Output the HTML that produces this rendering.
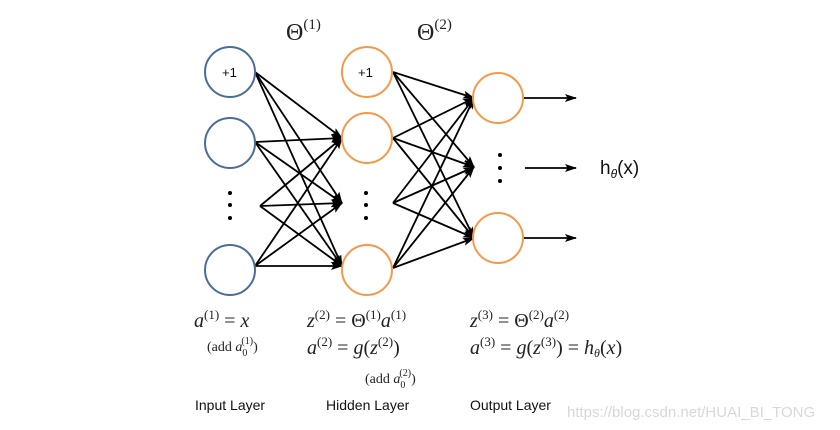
<!DOCTYPE html>
<html><head><meta charset="utf-8"><style>
html,body{margin:0;padding:0;background:#fff;}
svg{display:block}
.m{font-family:"Liberation Serif",serif;font-style:italic;fill:#222}
.r{font-family:"Liberation Serif",serif;font-style:normal;fill:#222}
.s{font-family:"Liberation Sans",sans-serif;fill:#111}
</style></head><body>
<svg width="840" height="430" viewBox="0 0 840 430" xmlns="http://www.w3.org/2000/svg">
<defs><marker id="a" markerWidth="12" markerHeight="10" refX="11" refY="5" orient="auto" markerUnits="userSpaceOnUse"><path d="M0,1 L12,5 L0,9 L2.5,5 z" fill="#000"/></marker></defs>
<g stroke="#000" stroke-width="1.8" marker-end="url(#a)">
<line x1="255" y1="72" x2="342" y2="138"/><line x1="255" y1="72" x2="342" y2="203"/><line x1="255" y1="72" x2="342" y2="266"/>
<line x1="255" y1="142" x2="342" y2="138"/><line x1="255" y1="142" x2="342" y2="203"/><line x1="255" y1="142" x2="342" y2="266"/>
<line x1="260" y1="206" x2="342" y2="138"/><line x1="260" y1="206" x2="342" y2="203"/><line x1="260" y1="206" x2="342" y2="266"/>
<line x1="255" y1="266" x2="342" y2="138"/><line x1="255" y1="266" x2="342" y2="203"/><line x1="255" y1="266" x2="342" y2="266"/>
<line x1="393" y1="72" x2="474" y2="98"/><line x1="393" y1="72" x2="474" y2="167"/><line x1="393" y1="72" x2="474" y2="238"/>
<line x1="393" y1="138" x2="474" y2="98"/><line x1="393" y1="138" x2="474" y2="167"/><line x1="393" y1="138" x2="474" y2="238"/>
<line x1="393" y1="203" x2="474" y2="98"/><line x1="393" y1="203" x2="474" y2="167"/><line x1="393" y1="203" x2="474" y2="238"/>
<line x1="393" y1="268" x2="474" y2="98"/><line x1="393" y1="268" x2="474" y2="167"/><line x1="393" y1="268" x2="474" y2="238"/>
<line x1="524" y1="98" x2="576" y2="98"/><line x1="525" y1="168" x2="576" y2="168"/><line x1="524" y1="238" x2="576" y2="238"/>
</g>
<g fill="#fff" stroke-width="2">
<circle cx="230" cy="72" r="25" stroke="#4a6c9b"/><circle cx="230" cy="143" r="25" stroke="#4a6c9b"/><circle cx="230" cy="270" r="25" stroke="#4a6c9b"/>
<circle cx="367" cy="72" r="25" stroke="#f39a4a"/><circle cx="367" cy="138" r="25" stroke="#f39a4a"/><circle cx="367" cy="270" r="25" stroke="#f39a4a"/>
<circle cx="498" cy="98" r="25" stroke="#f39a4a"/><circle cx="498" cy="238" r="25" stroke="#f39a4a"/>
</g>
<g fill="#000">
<circle cx="230" cy="193" r="2"/><circle cx="230" cy="205" r="2"/><circle cx="230" cy="218" r="2"/>
<circle cx="366" cy="193" r="2"/><circle cx="366" cy="205" r="2"/><circle cx="366" cy="218" r="2"/>
<circle cx="500" cy="155" r="2"/><circle cx="500" cy="168" r="2"/><circle cx="500" cy="181" r="2"/>
</g>
<text x="222" y="77" class="s" font-size="13">+1</text>
<text x="358" y="77" class="s" font-size="13">+1</text>
<text x="600" y="174" class="s" font-size="19">h<tspan font-size="12" dy="4" font-style="italic">θ</tspan><tspan dy="-4">(x)</tspan></text>
<text x="286" y="40" class="r" font-size="24">Θ<tspan font-size="15" dy="-11">(1)</tspan></text>
<text x="417" y="40" class="r" font-size="24">Θ<tspan font-size="15" dy="-11">(2)</tspan></text>
<g font-size="20">
<text x="194" y="327" class="m">a<tspan class="r" font-size="13" dy="-8">(1)</tspan><tspan class="r" dy="8"> = </tspan>x</text>
<text x="207" y="351" class="r" font-size="14">(add <tspan class="m">a</tspan><tspan font-size="10" dy="5">0</tspan><tspan font-size="10" dx="-6" dy="-12">(1)</tspan><tspan dy="7">)</tspan></text>
<text x="307" y="327" class="m">z<tspan class="r" font-size="13" dy="-8">(2)</tspan><tspan class="r" dy="8"> = Θ</tspan><tspan class="r" font-size="13" dy="-8">(1)</tspan><tspan dy="8">a</tspan><tspan class="r" font-size="13" dy="-8">(1)</tspan></text>
<text x="307" y="354" class="m">a<tspan class="r" font-size="13" dy="-8">(2)</tspan><tspan class="r" dy="8"> = </tspan>g<tspan class="r">(</tspan>z<tspan class="r" font-size="13" dy="-8">(2)</tspan><tspan class="r" dy="8">)</tspan></text>
<text x="365" y="383" class="r" font-size="14">(add <tspan class="m">a</tspan><tspan font-size="10" dy="5">0</tspan><tspan font-size="10" dx="-6" dy="-12">(2)</tspan><tspan dy="7">)</tspan></text>
<text x="470" y="327" class="m">z<tspan class="r" font-size="13" dy="-8">(3)</tspan><tspan class="r" dy="8"> = Θ</tspan><tspan class="r" font-size="13" dy="-8">(2)</tspan><tspan dy="8">a</tspan><tspan class="r" font-size="13" dy="-8">(2)</tspan></text>
<text x="470" y="354" class="m">a<tspan class="r" font-size="13" dy="-8">(3)</tspan><tspan class="r" dy="8"> = </tspan>g<tspan class="r">(</tspan>z<tspan class="r" font-size="13" dy="-8">(3)</tspan><tspan class="r" dy="8">) = </tspan>h<tspan font-size="12" dy="3">θ</tspan><tspan class="r" dy="-3">(</tspan>x<tspan class="r">)</tspan></text>
</g>
<text x="195" y="410" class="s" font-size="14">Input Layer</text>
<text x="326" y="410" class="s" font-size="14">Hidden Layer</text>
<text x="470" y="410" class="s" font-size="14">Output Layer</text>
<text x="567" y="417" font-family="Liberation Sans,sans-serif" font-size="15" fill="#d8d8d8">https://blog.csdn.net/HUAI_BI_TONG</text>
</svg>
</body></html>
